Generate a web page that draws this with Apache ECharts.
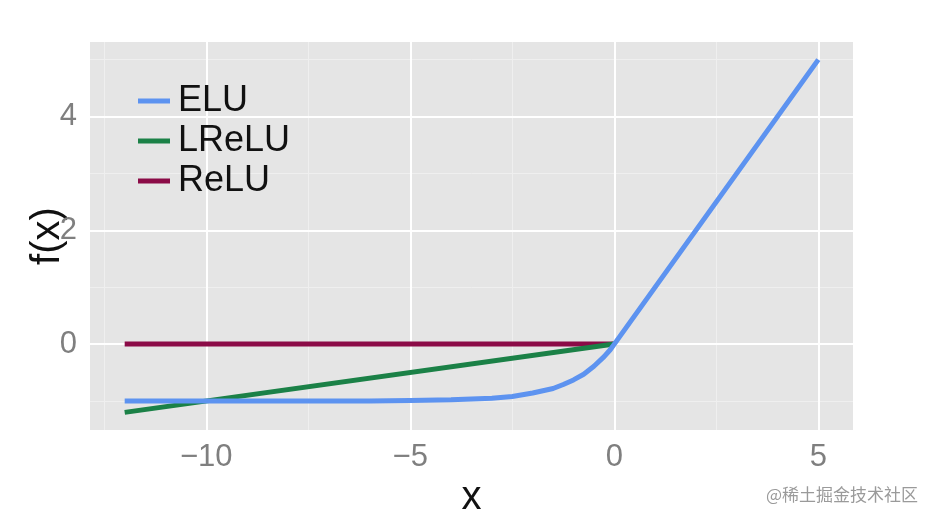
<!DOCTYPE html>
<html>
<head>
<meta charset="utf-8">
<script src="https://cdn.jsdelivr.net/npm/echarts@6/dist/echarts.min.js"></script>
<style>
  html, body { margin: 0; padding: 0; background: #fff; }
  #chart { width: 935px; height: 523px; }
</style>
</head>
<body>
<div id="chart"></div>
<script>
// values
var eluX = [-12, -10, -8, -6, -5, -4, -3, -2.5, -2, -1.5, -1.25, -1, -0.75, -0.5, -0.25, -0.1, 0, 5];
var eluY = [-1.0, -1.0, -1.0, -1.0, -0.99, -0.98, -0.95, -0.92, -0.86, -0.78, -0.71, -0.63, -0.53, -0.39, -0.22, -0.1, 0, 5];
var lreluX = [-12, 0];
var lreluY = [-1.2, 0];
var reluX = [-12, 0];
var reluY = [0, 0];

var xTicks = [-10, -5, 0, 5];
var yTicks = [0, 2, 4];
var xMinor = [-12.5, -7.5, -2.5, 2.5];
var yMinor = [-1, 1, 3, 5];

function pairs(xs, ys) {
  return xs.map(function (x, i) { return [x, ys[i]]; });
}

var chart = echarts.init(document.getElementById('chart'));

var gridLines = []
  .concat(xMinor.map(function (v) { return { xAxis: v, lineStyle: { color: '#efefef', width: 1, type: 'solid' } }; }))
  .concat(yMinor.map(function (v) { return { yAxis: v, lineStyle: { color: '#efefef', width: 1, type: 'solid' } }; }))
  .concat(xTicks.map(function (v) { return { xAxis: v, lineStyle: { color: '#ffffff', width: 2, type: 'solid' } }; }))
  .concat(yTicks.map(function (v) { return { yAxis: v, lineStyle: { color: '#ffffff', width: 2, type: 'solid' } }; }));

var font = 'Liberation Sans, Arial, sans-serif';

chart.setOption({
  animation: false,
  textStyle: { fontFamily: font },
  grid: {
    left: 90, right: 82, top: 42, bottom: 92,
    show: true,
    backgroundColor: '#e5e5e5',
    borderWidth: 0
  },
  legend: {
    data: ['ELU', 'LReLU', 'ReLU'],
    orient: 'vertical',
    left: 133,
    top: 76,
    icon: 'rect',
    itemWidth: 32,
    itemHeight: 5,
    itemGap: 0,
    selectedMode: false,
    textStyle: { fontSize: 36, color: '#111', lineHeight: 40, fontFamily: font, padding: [0, 0, 0, 3] }
  },
  xAxis: {
    type: 'value',
    min: -12.85,
    max: 5.85,
    name: 'x',
    nameLocation: 'middle',
    nameGap: 48,
    nameMoveOverlap: false,
    nameTextStyle: { fontSize: 40, color: '#111', fontFamily: font },
    axisLine: { show: false },
    splitLine: { show: false },
    axisTick: { show: true, length: 6, customValues: xTicks, lineStyle: { color: '#888', width: 1.5 } },
    axisLabel: {
      customValues: xTicks,
      fontSize: 31,
      color: '#7f7f7f',
      margin: 12,
      formatter: function (v) { return String(v).replace('-', '\u2212'); }
    }
  },
  yAxis: {
    type: 'value',
    min: -1.51,
    max: 5.31,
    name: 'f(x)',
    nameLocation: 'middle',
    nameGap: 22,
    nameMoveOverlap: false,
    nameTextStyle: { fontSize: 40, color: '#111', fontFamily: font },
    axisLine: { show: false },
    splitLine: { show: false },
    axisTick: { show: true, length: 6, customValues: yTicks, lineStyle: { color: '#888', width: 1.5 } },
    axisLabel: {
      customValues: yTicks,
      fontSize: 31,
      color: '#7f7f7f',
      margin: 13
    }
  },
  series: [
    {
      name: 'grid',
      type: 'line',
      data: [],
      z: 1,
      silent: true,
      markLine: {
        z: 1,
        silent: true,
        symbol: 'none',
        label: { show: false },
        emphasis: { disabled: true },
        animation: false,
        data: gridLines
      }
    },
    {
      name: 'ReLU',
      type: 'line',
      data: pairs(reluX, reluY),
      showSymbol: false,
      z: 3,
      lineStyle: { color: '#8b0b47', width: 5 },
      itemStyle: { color: '#8b0b47' },
      emphasis: { disabled: true }
    },
    {
      name: 'LReLU',
      type: 'line',
      data: pairs(lreluX, lreluY),
      showSymbol: false,
      z: 4,
      lineStyle: { color: '#1b8147', width: 5 },
      itemStyle: { color: '#1b8147' },
      emphasis: { disabled: true }
    },
    {
      name: 'ELU',
      type: 'line',
      data: pairs(eluX, eluY),
      showSymbol: false,
      z: 5,
      lineStyle: { color: '#5d93f0', width: 5, join: 'round' },
      itemStyle: { color: '#5d93f0' },
      emphasis: { disabled: true }
    }
  ],
  graphic: [{
    type: 'text',
    right: 17,
    top: 486,
    style: {
      text: '@稀土掘金技术社区',
      fontSize: 17,
      fill: '#9a9a9a',
      fontFamily: 'Noto Sans CJK SC, sans-serif'
    }
  }]
});
</script>
</body>
</html>
